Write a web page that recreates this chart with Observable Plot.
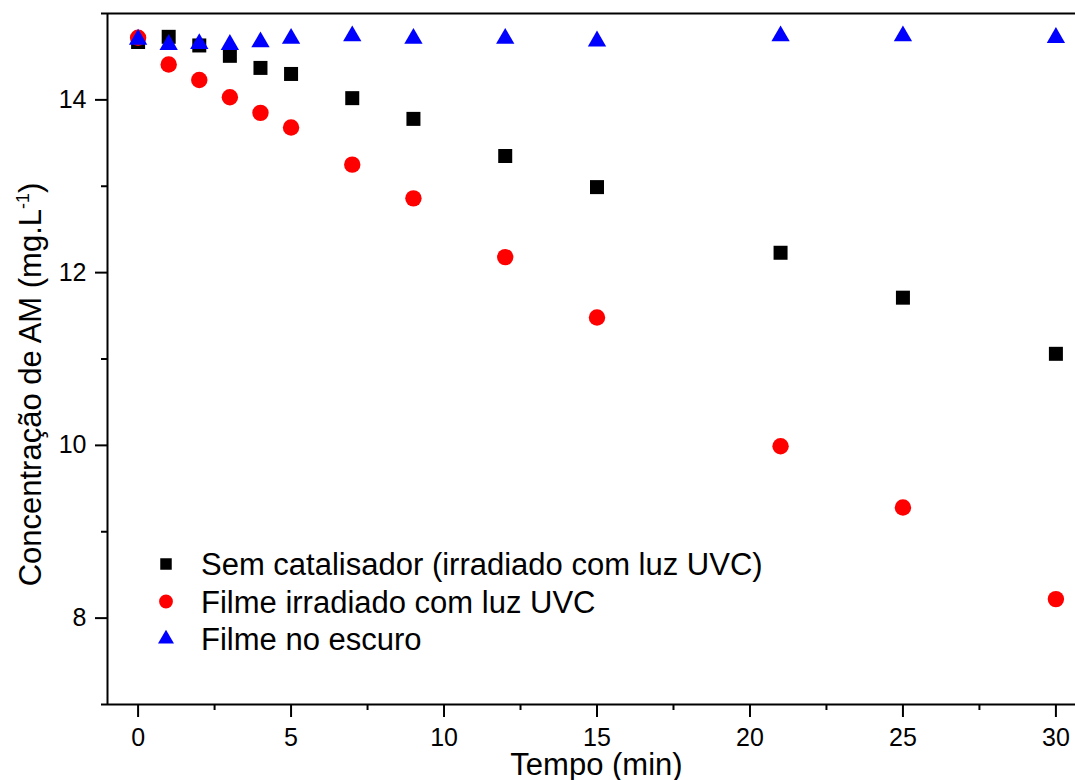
<!DOCTYPE html>
<html>
<head>
<meta charset="utf-8">
<script src="https://cdn.jsdelivr.net/npm/d3@7"></script>
<script src="https://cdn.jsdelivr.net/npm/@observablehq/plot@0.6"></script>
<style>
  html, body { margin: 0; padding: 0; background: #fff; }
  #chart svg { display: block; }
</style>
</head>
<body>
<div id="chart"></div>
<script>
// ---- data ----
const times = [0, 1, 2, 3, 4, 5, 7, 9, 12, 15, 21, 25, 30];
const semCatalisador = [14.67, 14.73, 14.63, 14.51, 14.37, 14.30, 14.02, 13.78, 13.35, 12.99, 12.23, 11.71, 11.06];
const filmeUVC      = [14.72, 14.41, 14.23, 14.03, 13.85, 13.68, 13.25, 12.86, 12.18, 11.48, 9.99, 9.28, 8.22];
const filmeEscuro   = [14.70, 14.64, 14.65, 14.64, 14.67, 14.71, 14.74, 14.71, 14.71, 14.68, 14.74, 14.74, 14.72];

const seriesNames = ["Sem catalisador (irradiado com luz UVC)", "Filme irradiado com luz UVC", "Filme no escuro"];
const seriesValues = [semCatalisador, filmeUVC, filmeEscuro];
const seriesColors = ["#000000", "#ff0000", "#0000ff"];
const seriesSymbols = ["square", "circle", "triangle"];

const xMajorTicks = [0, 5, 10, 15, 20, 25, 30];
const xMinorTicks = [2.5, 7.5, 12.5, 17.5, 22.5, 27.5];
const yMajorTicks = [8, 10, 12, 14];
const yMinorTicks = [7, 9, 11, 13, 15];

const xTitle = "Tempo (min)";
const yTitleMain = "Concentração de AM (mg.L";
const yTitleSup = "-1";
const yTitleEnd = ")";

// ---- styles ----
const FONT = "'Liberation Sans', Arial, Helvetica, sans-serif";
const dotR = [7.9, 8.2, 6.8];

const dotMarks = seriesValues.map((vals, k) =>
  Plot.dot(times.map((t, i) => ({t, v: vals[i]})), {
    x: "t", y: "v", symbol: seriesSymbols[k], fill: seriesColors[k], r: dotR[k], stroke: "none"
  })
);

const chart = Plot.plot({
  width: 1075,
  height: 780,
  marginLeft: 107,
  marginRight: 0,
  marginTop: 13,
  marginBottom: 76,
  style: {fontFamily: FONT, fontSize: "25px", color: "#000", background: "#fff", overflow: "visible"},
  x: {domain: [-1, 31], range: [107, 1086]},
  y: {domain: [7, 15]},
  marks: [
    Plot.axisX(xMinorTicks, {anchor: "bottom", tickSize: 6, tickFormat: () => "", strokeWidth: 2, label: null}),
    Plot.axisX(xMajorTicks, {anchor: "bottom", tickSize: 13, tickPadding: 11, strokeWidth: 2, label: null, tickFormat: d => String(d)}),
    Plot.axisY(yMinorTicks, {anchor: "left", tickSize: 6, tickFormat: () => "", strokeWidth: 2, label: null}),
    Plot.axisY(yMajorTicks, {anchor: "left", tickSize: 12, tickPadding: 9, strokeWidth: 2, label: null, tickFormat: d => String(d)}),
    Plot.ruleY([7, 15], {stroke: "#000", strokeWidth: 2}),
    Plot.ruleX([-1], {stroke: "#000", strokeWidth: 2}),
    ...dotMarks
  ]
});

document.getElementById("chart").append(chart);

const svg = d3.select(chart);
const xs = chart.scale("x");

// x title
svg.append("text")
  .attr("x", xs.apply(15))
  .attr("y", 775)
  .attr("text-anchor", "middle")
  .attr("font-family", FONT)
  .attr("font-size", 31)
  .attr("fill", "#000")
  .text(xTitle);

// y title with superscript
const yt = svg.append("text")
  .attr("transform", "translate(41,384.5) rotate(-90)")
  .attr("text-anchor", "middle")
  .attr("font-family", FONT)
  .attr("font-size", 31)
  .attr("fill", "#000");
yt.append("tspan").text(yTitleMain);
yt.append("tspan").attr("font-size", 18).attr("dy", -12).text(yTitleSup);
yt.append("tspan").attr("font-size", 31).attr("dy", 12).text(yTitleEnd);

// legend
const legendSymbolSize = [132, 150, 111];
const symbolTypes = {square: d3.symbolSquare, circle: d3.symbolCircle, triangle: d3.symbolTriangle};
const lg = svg.append("g").attr("font-family", FONT).attr("font-size", 31).attr("text-anchor", "start");
seriesNames.forEach((name, k) => {
  const cy = 564 + k * 37.5;
  lg.append("path")
    .attr("transform", `translate(166,${cy})`)
    .attr("d", d3.symbol(symbolTypes[seriesSymbols[k]], legendSymbolSize[k])())
    .attr("fill", seriesColors[k]);
  lg.append("text")
    .attr("x", 201)
    .attr("y", cy + 11)
    .attr("text-anchor", "start")
    .attr("fill", "#000")
    .text(name);
});
</script>
</body>
</html>
